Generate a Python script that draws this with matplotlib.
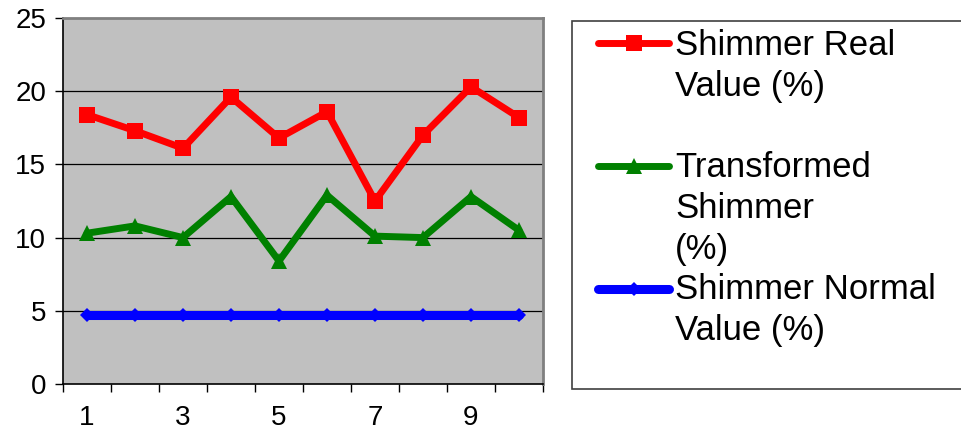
import matplotlib
matplotlib.use("Agg")
import matplotlib.pyplot as plt
from matplotlib.patches import Rectangle
from matplotlib.ticker import FixedLocator, NullFormatter

plt.rcParams['font.family'] = ['Liberation Sans', 'DejaVu Sans']

# Sample index and measured values
samples = [1, 2, 3, 4, 5, 6, 7, 8, 9, 10]
shimmer_real = [18.4, 17.3, 16.1, 19.6, 16.8, 18.6, 12.5, 17.0, 20.3, 18.2]
shimmer_transformed = [10.3, 10.8, 10.0, 12.8, 8.4, 12.9, 10.1, 10.0, 12.8, 10.5]
shimmer_normal = [4.7, 4.7, 4.7, 4.7, 4.7, 4.7, 4.7, 4.7, 4.7, 4.7]

series_labels = ["Shimmer Real\nValue (%)",
                 "Transformed\nShimmer\n(%)",
                 "Shimmer Normal\nValue (%)"]
x_tick_labels = ["1", "3", "5", "7", "9"]
y_ticks = [0, 5, 10, 15, 20, 25]

W, H = 961, 432
fig = plt.figure(figsize=(W / 100, H / 100), dpi=100)

# plot area in pixels
L, T, R, B = 63, 18, 543, 384
ax = fig.add_axes([L / W, 1 - B / H, (R - L) / W, (B - T) / H])
ax.set_facecolor('#C0C0C0')

styles = [
    dict(color='#FF0000', marker='s', markersize=11, linewidth=5),
    dict(color='#008000', marker='^', markersize=12, linewidth=5),
    dict(color='#0000FF', marker='D', markersize=7, linewidth=6.5),
]
series = [shimmer_real, shimmer_transformed, shimmer_normal]
handles = []
for vals, st, lab in zip(series, styles, series_labels):
    h, = ax.plot(samples, vals, solid_capstyle='round', solid_joinstyle='miter',
                 markeredgewidth=0, zorder=3, label=lab, **st)
    handles.append(h)

ax.set_xlim(0.5, 10.5)
ax.set_ylim(0, 25)
ax.set_yticks(y_ticks)
ax.set_yticklabels([str(v) for v in y_ticks], fontsize=20)
for v in y_ticks[1:-1]:
    ax.axhline(v, color='black', linewidth=0.9, zorder=1)

# category boundaries as major ticks, labels centered on odd categories
ax.xaxis.set_major_locator(FixedLocator([i + 0.5 for i in range(0, 11)]))
ax.xaxis.set_major_formatter(NullFormatter())
ax.xaxis.set_minor_locator(FixedLocator([int(s) for s in x_tick_labels]))
ax.set_xticklabels(x_tick_labels, minor=True, fontsize=20)
ax.tick_params(axis='x', which='major', direction='out', length=6, width=1, color='black')
ax.tick_params(axis='x', which='minor', length=0, pad=15)
ax.tick_params(axis='y', direction='out', length=6, width=1, color='black', pad=6)

for side in ('left', 'bottom'):
    ax.spines[side].set_color('black')
    ax.spines[side].set_linewidth(1.2)
for side in ('top', 'right'):
    ax.spines[side].set_color('#808080')
    ax.spines[side].set_linewidth(2)

# legend panel drawn in pixel coordinates
lax = fig.add_axes([0, 0, 1, 1])
lax.set_xlim(0, W)
lax.set_ylim(H, 0)
lax.axis('off')
lax.add_patch(Rectangle((572, 21), 390, 368, fill=False, edgecolor='#404040', linewidth=1.2))

line_y = [43, 166, 289]
first_baseline = [55, 177, 299]
for h, ly, fb, lab in zip(handles, line_y, first_baseline, series_labels):
    lax.plot([598, 669], [ly, ly], color=h.get_color(), linewidth=h.get_linewidth(),
             solid_capstyle='round')
    lax.plot([634], [ly], color=h.get_color(), marker=h.get_marker(),
             markersize=h.get_markersize(), markeredgewidth=0)
    for k, line in enumerate(lab.split('\n')):
        lax.text(675, fb + 41 * k, line, fontsize=25, va='baseline', ha='left', color='black')

fig.savefig('out.png', dpi=100)
